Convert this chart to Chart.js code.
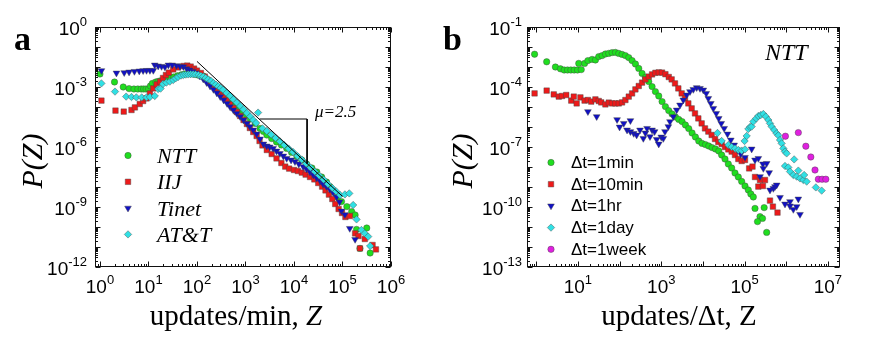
<!DOCTYPE html>
<html><head><meta charset="utf-8">
<script src="https://cdn.jsdelivr.net/npm/chart.js@4/dist/chart.umd.min.js"></script>
<style>
html,body{margin:0;padding:0;background:#fff;}
#wrap{position:relative;width:871px;height:346px;overflow:hidden;background:#fff;}
#ca{position:absolute;left:0;top:0;}
#cb{position:absolute;left:435px;top:0;}
</style></head><body>
<div id="wrap"><canvas id="ca" width="435" height="346"></canvas><canvas id="cb" width="436" height="346"></canvas></div>
<script>
// ---- Values, as [log10(Z), log10(P)] pairs (decades on the log axes) ----
// Panel a
const aNTT = [[0.0,-2.35],[0.3,-2.75],[0.48,-3.0],[0.6,-3.08],[0.7,-3.1],[0.78,-3.1],[0.85,-3.1],[0.9,-3.1],[0.95,-3.1],[1.0,-3.1],[1.04,-2.95],[1.08,-2.82],[1.15,-2.75],[1.2,-2.72],[1.26,-2.68],[1.32,-2.63],[1.38,-2.6],[1.45,-2.55],[1.52,-2.5],[1.6,-2.44],[1.68,-2.39],[1.75,-2.35],[1.82,-2.33],[1.9,-2.33],[1.96,-2.36],[2.02,-2.4],[2.13,-2.45],[2.2,-2.6],[2.27,-2.75],[2.34,-2.88],[2.41,-3.0],[2.48,-3.15],[2.55,-3.28],[2.61,-3.42],[2.68,-3.58],[2.75,-3.72],[2.82,-3.9],[2.89,-4.07],[2.95,-4.22],[3.02,-4.4],[3.1,-4.6],[3.2,-4.82],[3.3,-5.07],[3.37,-5.22],[3.44,-5.4],[3.54,-5.58],[3.64,-5.75],[3.74,-5.9],[3.85,-6.07],[3.95,-6.27],[4.06,-6.48],[4.16,-6.65],[4.26,-6.85],[4.37,-7.05],[4.47,-7.25],[4.57,-7.5],[4.67,-7.75],[4.74,-7.98],[4.81,-8.23],[4.9,-8.5],[4.98,-8.73],[5.09,-8.98],[5.19,-9.23],[5.26,-9.4],[5.29,-10.12],[5.36,-11.07],[5.5,-10.05],[5.57,-11.3]];
const aIIJ = [[0.03,-3.68],[0.32,-4.18],[0.49,-4.23],[0.65,-4.15],[0.72,-4.02],[0.82,-3.85],[0.89,-3.7],[0.96,-3.57],[1.03,-3.32],[1.1,-3.07],[1.17,-2.87],[1.24,-2.73],[1.3,-2.55],[1.36,-2.4],[1.42,-2.28],[1.51,-2.12],[1.61,-2.02],[1.72,-1.95],[1.8,-1.93],[1.87,-1.98],[1.94,-2.08],[2.0,-2.18],[2.08,-2.3],[2.16,-2.48],[2.22,-2.65],[2.27,-2.8],[2.33,-2.95],[2.4,-3.1],[2.47,-3.28],[2.54,-3.45],[2.61,-3.65],[2.68,-3.85],[2.75,-4.05],[2.82,-4.25],[2.89,-4.45],[2.96,-4.65],[3.03,-4.85],[3.09,-5.05],[3.16,-5.25],[3.23,-5.45],[3.29,-5.7],[3.35,-5.92],[3.44,-6.15],[3.54,-6.35],[3.64,-6.57],[3.74,-6.8],[3.82,-6.98],[3.9,-7.08],[4.0,-7.15],[4.08,-7.2],[4.16,-7.28],[4.24,-7.38],[4.33,-7.5],[4.42,-7.62],[4.5,-7.8],[4.58,-7.98],[4.65,-8.17],[4.72,-8.38],[4.79,-8.6],[4.85,-8.85],[4.92,-9.1],[4.99,-9.3],[5.06,-9.5],[5.15,-9.45],[5.26,-10.32],[5.33,-10.45],[5.36,-11.07],[5.46,-10.6],[5.62,-10.9],[5.69,-11.12]];
const aTinet = [[0.03,-2.18],[0.34,-2.3],[0.5,-2.28],[0.6,-2.25],[0.71,-2.22],[0.81,-2.2],[0.89,-2.18],[0.96,-2.17],[1.03,-2.17],[1.1,-2.17],[1.13,-1.9],[1.2,-1.95],[1.27,-1.97],[1.34,-2.0],[1.41,-1.9],[1.49,-1.9],[1.58,-1.93],[1.65,-1.97],[1.72,-1.98],[1.79,-2.08],[1.85,-2.15],[1.92,-2.22],[1.98,-2.3],[2.06,-2.45],[2.13,-2.6],[2.2,-2.78],[2.27,-2.95],[2.34,-3.12],[2.41,-3.3],[2.48,-3.48],[2.55,-3.65],[2.62,-3.82],[2.68,-3.98],[2.75,-4.15],[2.82,-4.32],[2.89,-4.48],[2.96,-4.65],[3.03,-4.82],[3.09,-4.98],[3.16,-5.15],[3.23,-5.35],[3.3,-5.6],[3.37,-5.85],[3.44,-5.95],[3.5,-6.0],[3.57,-6.07],[3.64,-6.2],[3.71,-6.32],[3.78,-6.45],[3.85,-6.57],[3.94,-6.65],[4.02,-6.73],[4.1,-6.85],[4.19,-6.98],[4.26,-7.1],[4.33,-7.25],[4.4,-7.4],[4.47,-7.55],[4.54,-7.7],[4.6,-7.85],[4.67,-7.98],[4.74,-8.12],[4.81,-8.28],[4.88,-8.5],[4.94,-8.75],[4.98,-9.2],[5.05,-9.38],[5.15,-10.07],[5.26,-10.62]];
const aATT = [[0.03,-2.82],[0.31,-3.23],[0.54,-3.48],[0.65,-3.5],[0.75,-3.52],[0.86,-3.52],[0.96,-3.52],[1.03,-3.5],[1.13,-3.45],[1.2,-3.1],[1.25,-3.08],[1.3,-2.85],[1.37,-2.78],[1.44,-2.73],[1.51,-2.65],[1.56,-2.57],[1.61,-2.5],[1.67,-2.43],[1.72,-2.4],[1.77,-2.38],[1.82,-2.37],[1.87,-2.36],[1.92,-2.36],[1.97,-2.37],[2.03,-2.4],[2.08,-2.44],[2.13,-2.48],[2.18,-2.55],[2.23,-2.62],[2.29,-2.7],[2.34,-2.8],[2.39,-2.88],[2.44,-2.97],[2.49,-3.05],[2.54,-3.14],[2.61,-3.3],[2.68,-3.45],[2.75,-3.62],[2.82,-3.78],[2.89,-3.95],[2.96,-4.12],[3.03,-4.3],[3.1,-4.48],[3.16,-4.65],[3.26,-4.28],[3.22,-4.8],[3.35,-5.07],[3.44,-5.2],[3.53,-5.38],[3.62,-5.55],[3.71,-5.72],[3.8,-5.9],[3.89,-6.08],[3.98,-6.25],[4.07,-6.45],[4.16,-6.63],[4.25,-6.83],[4.34,-7.03],[4.43,-7.23],[4.52,-7.43],[4.61,-7.63],[4.7,-7.85],[4.79,-8.05],[4.87,-8.22],[4.95,-8.4],[5.05,-8.37],[5.14,-8.32],[5.22,-8.9],[5.29,-9.62],[5.39,-10.15],[5.46,-10.32],[5.53,-10.48],[5.57,-10.95]];
const aFitLine = [[2.0,-1.72],[5.0,-8.47]];
const aSlopeTriangle = [[3.29,-4.6],[4.27,-4.6],[4.27,-6.83]];
// Panel b (NTT)
const b1min = [[-0.04,-2.36],[0.25,-2.74],[0.46,-3.0],[0.58,-3.09],[0.67,-3.15],[0.75,-3.15],[0.83,-3.15],[0.91,-3.15],[0.99,-3.15],[1.08,-3.13],[1.02,-2.82],[1.16,-2.82],[1.24,-2.68],[1.34,-2.62],[1.42,-2.65],[1.5,-2.48],[1.58,-2.43],[1.66,-2.35],[1.74,-2.32],[1.82,-2.28],[1.9,-2.27],[1.98,-2.32],[2.06,-2.37],[2.14,-2.43],[2.22,-2.53],[2.3,-2.68],[2.38,-2.85],[2.46,-3.07],[2.54,-3.32],[2.62,-3.52],[2.7,-3.73],[2.78,-3.98],[2.86,-4.23],[2.94,-4.45],[3.02,-4.73],[3.1,-4.98],[3.18,-5.18],[3.26,-5.35],[3.34,-5.5],[3.42,-5.62],[3.5,-5.73],[3.58,-5.9],[3.66,-6.08],[3.74,-6.3],[3.82,-6.5],[3.9,-6.7],[3.98,-6.82],[4.06,-6.88],[4.14,-6.95],[4.22,-7.03],[4.3,-7.1],[4.38,-7.2],[4.45,-7.4],[4.53,-7.6],[4.61,-7.85],[4.69,-8.05],[4.77,-8.3],[4.85,-8.5],[4.93,-8.72],[5.01,-8.95],[5.09,-9.15],[5.15,-9.35],[5.21,-9.5],[5.25,-10.07],[5.47,-10.03],[5.37,-10.48],[5.43,-10.57],[5.31,-10.73],[5.53,-11.27]];
const b10min = [[-0.04,-4.32],[0.25,-4.18],[0.42,-4.37],[0.54,-4.48],[0.62,-4.45],[0.72,-4.4],[0.84,-4.68],[0.9,-4.48],[0.97,-4.82],[1.06,-4.52],[1.16,-4.68],[1.24,-4.65],[1.32,-4.73],[1.42,-4.62],[1.5,-4.7],[1.56,-4.77],[1.66,-4.87],[1.74,-4.78],[1.82,-4.82],[1.9,-4.82],[1.98,-4.82],[2.06,-4.77],[2.14,-4.65],[2.22,-4.48],[2.3,-4.32],[2.38,-4.12],[2.46,-3.95],[2.54,-3.78],[2.62,-3.62],[2.7,-3.48],[2.78,-3.37],[2.86,-3.29],[2.94,-3.27],[3.02,-3.28],[3.1,-3.36],[3.18,-3.5],[3.25,-3.62],[3.33,-3.82],[3.41,-4.07],[3.49,-4.32],[3.57,-4.57],[3.65,-4.82],[3.73,-5.07],[3.81,-5.32],[3.89,-5.57],[3.97,-5.82],[4.05,-6.07],[4.13,-6.23],[4.21,-6.4],[4.29,-6.6],[4.37,-6.75],[4.45,-6.85],[4.53,-7.0],[4.61,-7.12],[4.69,-7.23],[4.77,-7.4],[4.85,-7.6],[4.93,-7.7],[5.01,-7.65],[5.11,-8.07],[5.19,-7.98],[5.25,-8.5],[5.33,-8.98],[5.37,-8.65],[5.44,-8.95],[5.49,-8.65],[5.61,-9.68],[5.68,-9.98],[5.79,-10.28]];
const b1hr = [[1.24,-5.23],[1.45,-5.48],[1.94,-5.63],[2.0,-6.0],[2.1,-5.82],[2.18,-6.15],[2.26,-5.68],[2.26,-6.23],[2.34,-6.32],[2.41,-6.4],[2.49,-6.15],[2.57,-6.57],[2.62,-6.3],[2.66,-6.07],[2.73,-6.48],[2.78,-6.15],[2.84,-6.23],[2.89,-6.62],[2.94,-6.85],[3.0,-6.5],[3.05,-6.57],[3.09,-6.23],[3.17,-5.98],[3.21,-5.73],[3.29,-5.48],[3.37,-5.15],[3.45,-4.9],[3.53,-4.65],[3.61,-4.4],[3.69,-4.23],[3.77,-4.12],[3.85,-4.03],[3.93,-4.07],[4.01,-4.15],[4.08,-4.32],[4.13,-4.57],[4.19,-4.82],[4.25,-5.07],[4.32,-5.32],[4.38,-5.57],[4.44,-5.82],[4.51,-6.07],[4.59,-6.35],[4.67,-6.65],[4.75,-6.9],[4.83,-7.15],[4.91,-7.35],[5.01,-7.52],[5.17,-7.1],[5.25,-7.65],[5.33,-7.57],[5.37,-8.48],[5.44,-7.85],[5.45,-8.07],[5.53,-7.82],[5.59,-8.28],[5.61,-9.15],[5.69,-9.07],[5.73,-8.98],[5.77,-8.9],[5.85,-9.52],[5.97,-9.85],[6.09,-9.73],[6.09,-9.95],[6.17,-10.12],[6.25,-9.98],[6.29,-9.6],[6.33,-10.37]];
const b1day = [[4.35,-6.3],[4.45,-6.7],[4.61,-6.9],[4.69,-7.0],[4.77,-7.07],[4.85,-7.15],[4.93,-7.18],[5.0,-6.7],[5.01,-7.12],[5.05,-6.45],[5.09,-6.1],[5.13,-6.0],[5.17,-5.98],[5.21,-5.73],[5.28,-5.57],[5.33,-5.45],[5.39,-5.4],[5.45,-5.35],[5.51,-5.48],[5.57,-5.65],[5.61,-5.82],[5.65,-5.98],[5.71,-6.15],[5.77,-6.32],[5.81,-6.42],[5.85,-6.65],[5.89,-6.82],[5.93,-7.07],[5.97,-7.23],[6.01,-7.32],[6.19,-7.62],[5.97,-7.95],[6.05,-8.02],[6.09,-8.23],[6.17,-8.4],[6.25,-8.48],[6.29,-8.18],[6.33,-8.57],[6.41,-8.65],[6.43,-8.4],[6.49,-8.73],[6.71,-9.02],[6.85,-9.18]];
const b1week = [[5.98,-6.46],[6.29,-6.28],[6.47,-6.96],[6.59,-7.5],[6.69,-8.15],[6.77,-8.61],[6.86,-8.61],[6.95,-8.61]];

// Tick labels (exponents of 10) and text
const aXTickExps = [0,1,2,3,4,5,6];
const aYTickExps = [0,-3,-6,-9,-12];
const bXTickExps = [1,3,5,7];
const bYTickExps = [-1,-4,-7,-10,-13];
const aSeriesNames = ['NTT','IIJ','Tinet','AT&T'];
const bSeriesNames = ['\u0394t=1min','\u0394t=10min','\u0394t=1hr','\u0394t=1day','\u0394t=1week'];

// ---- styles ----
const SANS = '"Liberation Sans", Arial, sans-serif';
const SERIF = '"Liberation Serif", "Times New Roman", serif';
const GREEN = '#1fde1f', RED = '#ee1a1a', BLUE = '#1010c4', CYAN = '#30e0e4', MAG = '#e020e0';
const EDGE = 'rgba(70,70,70,0.55)';
const STY = [
  {c: GREEN, s: 'circle', r: 3.2, rot: 0},
  {c: RED, s: 'rect', r: 3.9, rot: 0},
  {c: BLUE, s: 'triangle', r: 3.9, rot: 180},
  {c: CYAN, s: 'rectRot', r: 3.7, rot: 0},
  {c: MAG, s: 'circle', r: 3.2, rot: 0}
];

function toPts(pairs){ return pairs.map(p => ({x: Math.pow(10, p[0]), y: Math.pow(10, p[1])})); }
function scatterSet(label, pairs, st, order){
  return {type: 'scatter', label, data: toPts(pairs), backgroundColor: st.c, borderColor: EDGE, borderWidth: 0.8,
    pointStyle: st.s, pointRadius: st.r, pointHoverRadius: st.r, pointRotation: st.rot, showLine: false, order};
}
function lineSet(pairs){
  return {type: 'line', label: '', data: toPts(pairs), borderColor: '#000', borderWidth: 1, pointRadius: 0, fill: false, tension: 0, order: 0};
}

function powLabel(ctx, exp, x, y, align){
  ctx.font = '19px ' + SANS;
  const w1 = ctx.measureText('10').width;
  const es = String(exp);
  ctx.font = '13px ' + SANS;
  const w2 = ctx.measureText(es).width;
  const tw = w1 + w2;
  const x0 = align === 'right' ? x - tw : x - tw / 2;
  ctx.textAlign = 'left'; ctx.textBaseline = 'alphabetic'; ctx.fillStyle = '#000';
  ctx.font = '19px ' + SANS; ctx.fillText('10', x0, y);
  ctx.font = '13px ' + SANS; ctx.fillText(es, x0 + w1, y - 9);
}
function segText(ctx, segs, cx, y, size){
  let tw = 0;
  segs.forEach(s => { ctx.font = (s.it ? 'italic ' : '') + size + 'px ' + SERIF; s.w = ctx.measureText(s.t).width; tw += s.w; });
  let x = cx - tw / 2;
  ctx.textAlign = 'left'; ctx.textBaseline = 'alphabetic'; ctx.fillStyle = '#000';
  segs.forEach(s => { ctx.font = (s.it ? 'italic ' : '') + size + 'px ' + SERIF; ctx.fillText(s.t, x, y); x += s.w; });
}

function makeDeco(cfg){
  return {
    id: 'deco' + cfg.name,
    afterDraw(chart){
      const ctx = chart.ctx, a = chart.chartArea, xs = chart.scales.x, ys = chart.scales.y;
      ctx.save();
      ctx.strokeStyle = '#111'; ctx.lineWidth = 1;
      const L = Math.round(a.left) + 0.5, R = Math.round(a.right) - 0.5, T = Math.round(a.top) + 0.5, B = Math.round(a.bottom) - 0.5;
      ctx.strokeRect(L, T, R - L, B - T);
      ctx.beginPath();
      for (let d = Math.floor(Math.log10(xs.min)); d <= Math.ceil(Math.log10(xs.max)); d++){
        for (let m = 1; m < 10; m++){
          const v = m * Math.pow(10, d);
          if (v < xs.min || v > xs.max) continue;
          const px = Math.round(xs.getPixelForValue(v)) + 0.5;
          const len = m === 1 ? 5 : 2.5;
          ctx.moveTo(px, B); ctx.lineTo(px, B - len);
          ctx.moveTo(px, T); ctx.lineTo(px, T + len);
        }
      }
      for (let d = Math.floor(Math.log10(ys.min)); d <= Math.ceil(Math.log10(ys.max)); d++){
        for (let m = 1; m < 10; m++){
          const v = m * Math.pow(10, d);
          if (v < ys.min * 0.999 || v > ys.max * 1.001) continue;
          const py = Math.round(ys.getPixelForValue(v)) + 0.5;
          const len = m === 1 ? 5 : 2.5;
          ctx.moveTo(L, py); ctx.lineTo(L + len, py);
          ctx.moveTo(R, py); ctx.lineTo(R - len, py);
        }
      }
      ctx.stroke();
      cfg.xTicks.forEach(e => powLabel(ctx, e, xs.getPixelForValue(Math.pow(10, e)), 293, 'center'));
      cfg.yTicks.forEach(e => powLabel(ctx, e, cfg.yLabelRight, ys.getPixelForValue(Math.pow(10, e)) + 8, 'right'));
      segText(ctx, cfg.xTitle, cfg.xTitleX, 325, 29);
      ctx.save();
      ctx.translate(cfg.yTitleX, 161); ctx.rotate(-Math.PI / 2);
      segText(ctx, [{t: 'P(Z)', it: true}], 0, 10, 30);
      ctx.restore();
      ctx.fillStyle = '#000'; ctx.textAlign = 'left';
      ctx.font = 'bold 34px ' + SERIF; ctx.fillText(cfg.letter, cfg.letterX, 50);
      cfg.legend.names.forEach((n, i) => {
        const st = STY[i];
        const by = cfg.legend.y0 + i * cfg.legend.dy;
        ctx.fillStyle = st.c; ctx.strokeStyle = EDGE; ctx.lineWidth = 0.8;
        Chart.helpers.drawPoint(ctx, {pointStyle: st.s, radius: st.r, rotation: st.rot, borderWidth: 0.8}, cfg.legend.mx, by - cfg.legend.off);
        ctx.fillStyle = '#000'; ctx.textAlign = 'left';
        ctx.font = cfg.legend.font; ctx.fillText(n, cfg.legend.tx, by);
      });
      cfg.notes.forEach(nt => { ctx.fillStyle = '#000'; ctx.textAlign = 'left'; ctx.font = nt.f; ctx.fillText(nt.t, nt.x, nt.y); });
      ctx.restore();
    }
  };
}

function axes(xmin, xmax, ymin, ymax){
  return {
    x: {type: 'logarithmic', min: xmin, max: xmax, display: false},
    y: {type: 'logarithmic', min: ymin, max: ymax, display: false}
  };
}

new Chart(document.getElementById('ca'), {
  type: 'scatter',
  data: {datasets: [
    scatterSet(aSeriesNames[0], aNTT, STY[0], 4),
    scatterSet(aSeriesNames[1], aIIJ, STY[1], 3),
    scatterSet(aSeriesNames[2], aTinet, STY[2], 2),
    scatterSet(aSeriesNames[3], aATT, STY[3], 1),
    lineSet(aFitLine),
    lineSet(aSlopeTriangle)
  ]},
  options: {
    responsive: false, animation: false, events: [], devicePixelRatio: 1,
    layout: {padding: {left: 95, right: 44, top: 27, bottom: 79}},
    plugins: {legend: {display: false}, tooltip: {enabled: false}},
    scales: axes(0.79, 1e6, 1e-12, 1)
  },
  plugins: [makeDeco({
    name: 'A', xTicks: aXTickExps, yTicks: aYTickExps, yLabelRight: 87,
    xTitle: [{t: 'updates/min, ', it: false}, {t: 'Z', it: true}], xTitleX: 236, yTitleX: 32,
    letter: 'a', letterX: 14,
    legend: {names: aSeriesNames, y0: 163, dy: 26.3, off: 7.5, mx: 128, tx: 157, font: 'italic 22px ' + SERIF},
    notes: [{t: '\u03bc=2.5', x: 315, y: 117, f: 'italic 17px ' + SERIF}]
  })]
});

new Chart(document.getElementById('cb'), {
  type: 'scatter',
  data: {datasets: [
    scatterSet(bSeriesNames[0], b1min, STY[0], 5),
    scatterSet(bSeriesNames[1], b10min, STY[1], 4),
    scatterSet(bSeriesNames[2], b1hr, STY[2], 3),
    scatterSet(bSeriesNames[3], b1day, STY[3], 2),
    scatterSet(bSeriesNames[4], b1week, STY[4], 1)
  ]},
  options: {
    responsive: false, animation: false, events: [], devicePixelRatio: 1,
    layout: {padding: {left: 92, right: 31, top: 27, bottom: 79}},
    plugins: {legend: {display: false}, tooltip: {enabled: false}},
    scales: axes(0.6, 1.95e7, 1e-13, 1e-1)
  },
  plugins: [makeDeco({
    name: 'B', xTicks: bXTickExps, yTicks: bYTickExps, yLabelRight: 87,
    xTitle: [{t: 'updates/\u0394t, Z', it: false}], xTitleX: 244, yTitleX: 27,
    letter: 'b', letterX: 8,
    legend: {names: bSeriesNames, y0: 168, dy: 21.7, off: 5.5, mx: 116, tx: 136, font: '17px ' + SANS},
    notes: [{t: 'NTT', x: 330, y: 60, f: 'italic 24px ' + SERIF}]
  })]
});
</script>
</body></html>
